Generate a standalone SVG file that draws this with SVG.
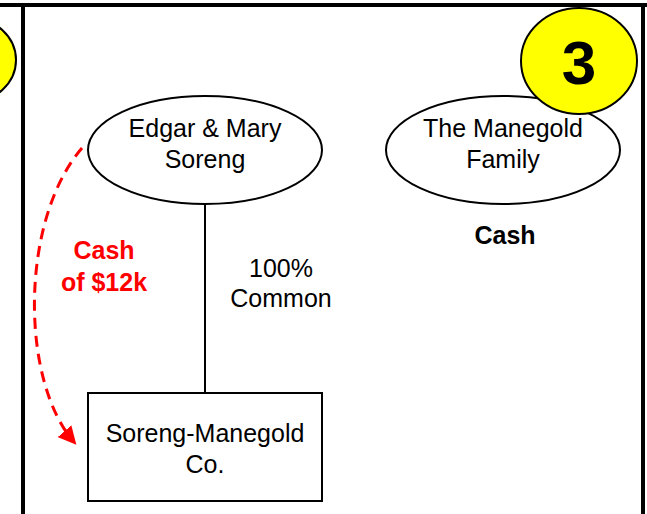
<svg xmlns="http://www.w3.org/2000/svg" width="647" height="514" viewBox="0 0 647 514">
<style>
.t{font-family:"Liberation Sans",Arial,sans-serif;font-size:25px;fill:#000;text-anchor:middle}
.b{font-weight:bold}
.r{fill:#ff0000;font-weight:bold}
.node{fill:#fff;stroke:#000;stroke-width:2}
.badge{fill:#ffff00;stroke:#000;stroke-width:2}
.frame{stroke:#000;stroke-width:4;fill:none}
</style>
<defs>
<marker id="ah" viewBox="0 0 10 10" refX="8" refY="5" markerWidth="6" markerHeight="6" orient="auto" markerUnits="strokeWidth">
<path d="M0,0 L10,5 L0,10 z" fill="#ff0000"/>
</marker>
</defs>
<rect width="647" height="514" fill="#fff"/>
<g id="frame">
<line class="frame" x1="0" y1="5" x2="647" y2="5"/>
<line class="frame" x1="23" y1="5" x2="23" y2="514"/>
<line class="frame" x1="643" y1="5" x2="643" y2="514"/>
</g>
<g id="badge-left">
<ellipse class="badge" cx="-30" cy="60" rx="46" ry="42"/>
</g>
<g id="connectors">
<line x1="205" y1="203" x2="205" y2="393" stroke="#000" stroke-width="2"/>
<path d="M82,148 C20,220 20,380 74,442" fill="none" stroke="#ff0000" stroke-width="3" stroke-dasharray="11,7" marker-end="url(#ah)"/>
</g>
<g id="edgar">
<ellipse class="node" cx="205" cy="150" rx="117" ry="54"/>
<text class="t" x="205" y="137">Edgar &amp; Mary</text>
<text class="t" x="205" y="168">Soreng</text>
</g>
<g id="manegold">
<ellipse class="node" cx="503" cy="150" rx="117" ry="54"/>
<text class="t" x="503" y="137">The Manegold</text>
<text class="t" x="503" y="168">Family</text>
<text class="t b" x="505" y="244">Cash</text>
</g>
<g id="badge-3">
<ellipse class="badge" cx="579" cy="61" rx="58" ry="53"/>
<text class="t b" x="579" y="84" style="font-size:62px">3</text>
</g>
<g id="soreng-manegold">
<rect class="node" x="88" y="393" width="234" height="108"/>
<text class="t" x="205" y="442">Soreng-Manegold</text>
<text class="t" x="205" y="473">Co.</text>
</g>
<g id="labels">
<text class="t" x="281" y="277">100%</text>
<text class="t" x="281" y="307">Common</text>
<text class="t r" x="104" y="259">Cash</text>
<text class="t r" x="104" y="291">of $12k</text>
</g>
</svg>
